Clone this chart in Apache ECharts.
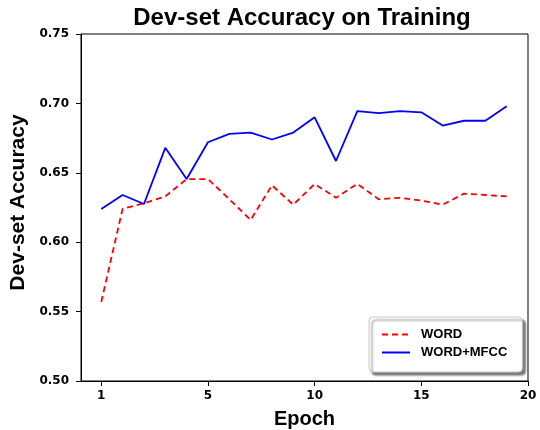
<!DOCTYPE html>
<html><head><meta charset="utf-8">
<script src="https://cdn.jsdelivr.net/npm/echarts@6/dist/echarts.min.js"></script>
<style>html,body{margin:0;padding:0;background:#fff}#c{width:540px;height:430px}</style>
</head><body><div id="c"></div>
<script>
var epochs = [0,1,2,3,4,5,6,7,8,9,10,11,12,13,14,15,16,17,18,19];
var wordAcc = [0.557,0.624,0.628,0.633,0.6455,0.6455,0.631,0.616,0.641,0.627,0.642,0.632,0.642,0.631,0.632,0.630,0.627,0.635,0.634,0.633];
var wordMfccAcc = [0.624,0.634,0.6275,0.668,0.6455,0.672,0.678,0.679,0.674,0.679,0.690,0.6585,0.6945,0.693,0.6945,0.6936,0.684,0.6875,0.6875,0.698];
var xTickPositions = [0,5,10,15,20];
var xTickLabels = ['1','5','10','15','20'];
var yTicks = [0.50,0.55,0.60,0.65,0.70,0.75];

var font = 'Liberation Sans, Arial, sans-serif';
var tickFont = 'DejaVu Sans, sans-serif';
function pairs(xs, ys){ return xs.map(function(x,i){ return [x, ys[i]]; }); }
var chart = echarts.init(document.getElementById('c'), null, {renderer:'canvas'});
chart.setOption({
  animation:false,
  backgroundColor:'#fff',
  title:{text:'Dev-set Accuracy on Training', left:297, top:1, textAlign:'center',
    textStyle:{fontFamily:font, fontWeight:'bold', fontSize:24, color:'#000'}},
  grid:{left:81, right:12, top:34, bottom:49, show:true, borderColor:'#000', borderWidth:1, backgroundColor:'transparent',
    containLabel:false, outerBoundsMode:'none'},
  xAxis:{type:'value', min:-0.95, max:20,
    name:'Epoch', nameLocation:'middle', nameGap:28,
    nameTextStyle:{fontFamily:font, fontWeight:'bold', fontSize:20, color:'#000'},
    axisLine:{show:true, onZero:false, lineStyle:{color:'#000', width:1}},
    axisTick:{show:true, length:5, customValues:xTickPositions, lineStyle:{color:'#000'}},
    axisLabel:{customValues:xTickPositions, margin:9, fontFamily:tickFont, fontWeight:'bold', fontSize:12, color:'#000',
      formatter:function(v){ var i = xTickPositions.indexOf(v); return i>=0 ? xTickLabels[i] : ''; }},
    splitLine:{show:false}},
  yAxis:{type:'value', min:yTicks[0], max:yTicks[yTicks.length-1], interval:0.05,
    name:'Dev-set Accuracy', nameLocation:'middle', nameGap:48,
    nameTextStyle:{fontFamily:font, fontWeight:'bold', fontSize:21, color:'#000', padding:[0,0,0,10]},
    axisLine:{show:true, onZero:false, lineStyle:{color:'#000', width:1}},
    axisTick:{show:true, length:5, lineStyle:{color:'#000'}},
    axisLabel:{margin:12, fontFamily:tickFont, fontWeight:'bold', fontSize:12, color:'#000',
      formatter:function(v){ return v.toFixed(2); }},
    splitLine:{show:false}},
  legend:{orient:'vertical', left:369, top:317,
    padding:[11,15,13,12], itemGap:5, itemWidth:28, itemHeight:14,
    backgroundColor:'#fff', borderColor:'#c8c8c8', borderWidth:1, borderRadius:4,
    shadowBlur:2, shadowColor:'rgba(0,0,0,0.5)', shadowOffsetX:3, shadowOffsetY:3,
    itemStyle:{opacity:0},
    textStyle:{fontFamily:font, fontWeight:'bold', fontSize:13, color:'#000', padding:[0,0,0,6]},
    data:['WORD','WORD+MFCC']},
  series:[
    {name:'WORD', type:'line', data:pairs(epochs, wordAcc), symbol:'none', showSymbol:false,
      lineStyle:{color:'#ff0000', width:1.8, type:[6,4]}, itemStyle:{color:'#ff0000'}},
    {name:'WORD+MFCC', type:'line', data:pairs(epochs, wordMfccAcc), symbol:'none', showSymbol:false,
      lineStyle:{color:'#0000ff', width:1.8}, itemStyle:{color:'#0000ff'}}
  ]
});
</script></body></html>
